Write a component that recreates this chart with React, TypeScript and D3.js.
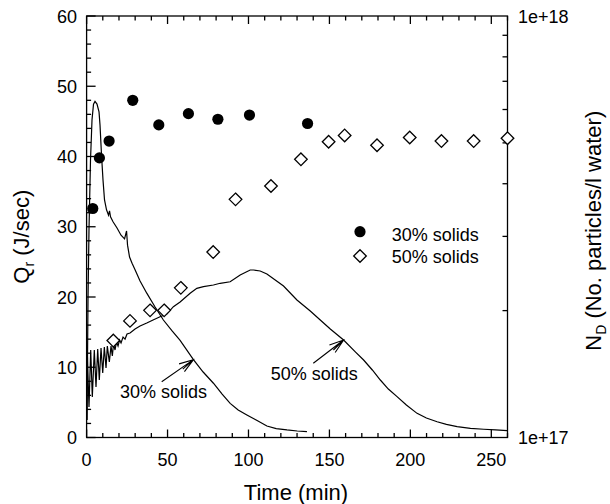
import React from "react";
import * as d3 from "d3";

// Q_r (J/sec) measured points
const solids30Time = [3.8, 7.9, 13.9, 28.5, 44.6, 62.9, 81.1, 100.6, 136.5];
const solids30Qr = [32.6, 39.8, 42.2, 48.0, 44.5, 46.1, 45.3, 45.9, 44.7];

const solids50Time = [16.5, 26.8, 39.2, 47.9, 58.2, 78.2, 92.0, 113.9, 132.4, 149.5, 159.4, 179.4, 199.6, 219.2, 239.1, 260];
const solids50Qr = [13.8, 16.6, 18.1, 18.1, 21.3, 26.4, 33.9, 35.8, 39.6, 42.1, 43.0, 41.6, 42.7, 42.2, 42.2, 42.6];

// N_D curves (units of 1e17 particles/l water)
const curve30Time = [0.25, 0.87, 1.48, 2.41, 3.34, 4.27, 5.19, 6.43, 7.67, 8.29, 9.21, 10.14, 11.07, 12.31, 13.54, 14.16, 14.78, 16.33, 18.8, 21.27, 23.44, 24.68, 25.29, 26.53, 28.08, 29.93, 33.02, 37.17, 42.3, 47.43, 52.81, 57.76, 65.99, 71.99, 78.35, 83.73, 88.68, 93.63, 99.01, 104.76, 111.38, 117.13, 123.75, 130.12, 136.12];
const curve30ND = [1.1, 2.12, 3.11, 4.55, 5.67, 6.18, 6.27, 6.18, 5.92, 5.51, 4.68, 4.08, 3.66, 3.47, 3.37, 3.45, 3.34, 3.25, 3.14, 3.02, 2.96, 3.09, 2.86, 2.68, 2.59, 2.5, 2.35, 2.2, 2.04, 1.9, 1.79, 1.7, 1.53, 1.43, 1.345, 1.268, 1.205, 1.162, 1.131, 1.1, 1.065, 1.05, 1.042, 1.036, 1.033];

const curve50Time = [0.12, 0.43, 1.48, 2.54, 3.53, 4.76, 5.81, 6.86, 7.85, 8.91, 9.96, 10.95, 12.0, 12.8, 14.04, 15.09, 15.89, 16.64, 17.56, 18.49, 19.42, 20.35, 21.27, 22.51, 23.75, 24.98, 26.84, 29.93, 33.02, 37.17, 41.06, 45.39, 49.54, 53.62, 57.76, 63.95, 68.09, 72.17, 78.35, 82.5, 88.68, 94.87, 101.05, 103.09, 107.23, 111.38, 121.65, 129.93, 138.16, 144.34, 150.53, 158.75, 165.99, 171.12, 176.5, 181.45, 186.39, 191.77, 197.53, 204.14, 209.89, 216.51, 222.26, 228.88, 237.11, 245.33, 252.57, 259.8];
const curve50ND = [1.1, 1.596, 1.181, 1.613, 1.248, 1.613, 1.318, 1.622, 1.369, 1.631, 1.422, 1.639, 1.462, 1.648, 1.511, 1.648, 1.561, 1.667, 1.613, 1.685, 1.648, 1.703, 1.676, 1.731, 1.712, 1.76, 1.77, 1.809, 1.839, 1.869, 1.9, 1.934, 1.963, 2.043, 2.097, 2.198, 2.259, 2.279, 2.3, 2.322, 2.342, 2.43, 2.497, 2.497, 2.483, 2.443, 2.288, 2.12, 1.996, 1.9, 1.809, 1.703, 1.596, 1.527, 1.446, 1.369, 1.303, 1.25, 1.194, 1.141, 1.112, 1.09, 1.074, 1.061, 1.051, 1.046, 1.042, 1.038];

const xMajorTicks = [0, 50, 100, 150, 200, 250];
const yMajorTicks = [0, 10, 20, 30, 40, 50, 60];
const rightLabels = ["1e+17", "1e+18"];
const legendLabels = ["30% solids", "50% solids"];

const W = 610, H = 504;
const L = 86.6, R = 507.5, T = 16, B = 437.5;
const FONT = "'Liberation Sans', Arial, Helvetica, sans-serif";

export default function App() {
  const x = d3.scaleLinear().domain([0, 260]).range([L, R]);
  const y = d3.scaleLinear().domain([0, 60]).range([B, T]);
  const yr = d3.scaleLog().domain([1e17, 1e18]).range([B, T]);

  const line = d3.line<[number, number]>().x(d => x(d[0])).y(d => yr(d[1] * 1e17));
  const c30 = curve30Time.map((t, i) => [t, curve30ND[i]] as [number, number]);
  const c50 = curve50Time.map((t, i) => [t, curve50ND[i]] as [number, number]);

  const xMinor = d3.range(0, 261, 10).filter(v => v % 50 !== 0);
  const yMinor = d3.range(0, 61, 2).filter(v => v % 10 !== 0);
  const rMinor = yr.ticks().filter(v => v !== 1e17 && v !== 1e18);

  const diamond = (cx: number, cy: number, r = 6.3) => `M${cx},${cy - r}L${cx + r},${cy}L${cx},${cy + r}L${cx - r},${cy}Z`;

  const arrow = (x1: number, y1: number, x2: number, y2: number) => {
    const ang = Math.atan2(y2 - y1, x2 - x1);
    const len = 15;
    const a1 = ang + Math.PI - 0.32, a2 = ang + Math.PI + 0.32;
    const p = (a: number, l: number) => `${x2 + l * Math.cos(a)},${y2 + l * Math.sin(a)}`;
    return `M${x1},${y1}L${x2},${y2}M${p(a1, len)}L${x2},${y2}L${p(a2, len)}M${p(ang + Math.PI - 0.12, len * 0.95)}L${x2},${y2}`;
  };

  const sw = 1.3;
  return (
    <svg width={W} height={H} style={{ position: "absolute", left: 0, top: 0, background: "#fff" }} fontFamily={FONT}>
      <rect x={0} y={0} width={W} height={H} fill="#fff" />
      {/* curves */}
      <path d={line(c30) || ""} fill="none" stroke="#000" strokeWidth={1.2} />
      <path d={line(c50) || ""} fill="none" stroke="#000" strokeWidth={1.2} />
      {/* frame */}
      <rect x={L} y={T} width={R - L} height={B - T} fill="none" stroke="#000" strokeWidth={sw} />
      {/* bottom/top ticks */}
      {xMajorTicks.map(v => (
        <g key={"xm" + v}>
          <line x1={x(v)} x2={x(v)} y1={B} y2={B - 8} stroke="#000" strokeWidth={sw} />
          <line x1={x(v)} x2={x(v)} y1={T} y2={T + 8} stroke="#000" strokeWidth={sw} />
          <text x={x(v)} y={466} textAnchor="middle" fontSize={18}>{v}</text>
        </g>
      ))}
      {xMinor.map(v => (
        <g key={"xn" + v}>
          <line x1={x(v)} x2={x(v)} y1={B} y2={B - 4.5} stroke="#000" strokeWidth={sw} />
          <line x1={x(v)} x2={x(v)} y1={T} y2={T + 4.5} stroke="#000" strokeWidth={sw} />
        </g>
      ))}
      {/* left ticks */}
      {yMajorTicks.map(v => (
        <g key={"ym" + v}>
          <line x1={L} x2={L + 9} y1={y(v)} y2={y(v)} stroke="#000" strokeWidth={sw} />
          <text x={77} y={y(v) + 6.5} textAnchor="end" fontSize={18}>{v}</text>
        </g>
      ))}
      {yMinor.map(v => (
        <line key={"yn" + v} x1={L} x2={L + 4.5} y1={y(v)} y2={y(v)} stroke="#000" strokeWidth={sw} />
      ))}
      {/* right log ticks */}
      {rMinor.map(v => (
        <line key={"rn" + v} x1={R} x2={R - 5} y1={yr(v)} y2={yr(v)} stroke="#000" strokeWidth={sw} />
      ))}
      <text x={518} y={yr(1e17) + 6.5} fontSize={18}>{rightLabels[0]}</text>
      <text x={518} y={yr(1e18) + 6.5} fontSize={18}>{rightLabels[1]}</text>
      {/* markers */}
      {solids30Time.map((t, i) => (
        <circle key={"c" + i} cx={x(t)} cy={y(solids30Qr[i])} r={5.6} fill="#000" />
      ))}
      {solids50Time.map((t, i) => (
        <path key={"d" + i} d={diamond(x(t), y(solids50Qr[i]))} fill="#fff" stroke="#000" strokeWidth={1.3} />
      ))}
      {/* legend */}
      <circle cx={360} cy={231.7} r={5.6} fill="#000" />
      <text x={391.7} y={240.5} fontSize={18}>{legendLabels[0]}</text>
      <path d={diamond(360, 256)} fill="#fff" stroke="#000" strokeWidth={1.3} />
      <text x={391.7} y={263.3} fontSize={18}>{legendLabels[1]}</text>
      {/* annotations */}
      <path d={arrow(161.7, 381.7, x(66), yr(1.53e17))} fill="none" stroke="#000" strokeWidth={1.1} />
      <text x={120} y={398} fontSize={18}>{legendLabels[0]}</text>
      <path d={arrow(313.3, 363.3, x(158.75), yr(1.703e17))} fill="none" stroke="#000" strokeWidth={1.1} />
      <text x={270.7} y={380} fontSize={18}>{legendLabels[1]}</text>
      {/* axis titles */}
      <text x={296} y={500} textAnchor="middle" fontSize={22}>Time (min)</text>
      <text transform={`translate(29,${(T + B) / 2 + 10}) rotate(-90)`} textAnchor="middle" fontSize={22}>
        Q<tspan fontSize={14} dy={5}>r</tspan><tspan dy={-5}> (J/sec)</tspan>
      </text>
      <text transform={`translate(601,${(T + B) / 2 + 4}) rotate(-90)`} textAnchor="middle" fontSize={22}>
        N<tspan fontSize={14} dy={5}>D</tspan><tspan dy={-5}> (No. particles/l water)</tspan>
      </text>
    </svg>
  );
}
